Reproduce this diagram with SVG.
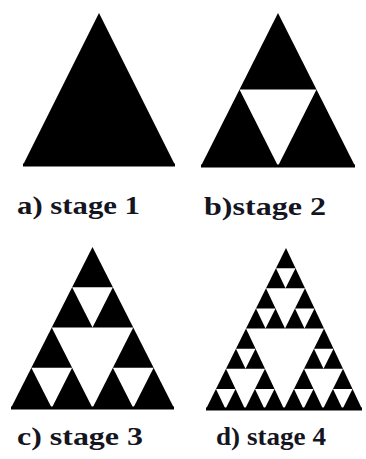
<svg xmlns="http://www.w3.org/2000/svg" width="366" height="459" viewBox="0 0 366 459">
  <style>
    .blk { fill: #000; }
    .wht { fill: #fff; }
    .base { stroke: #000; stroke-width: 3; }
    .lbl { font-family: "Liberation Serif", "Times New Roman", serif; font-weight: bold; font-size: 26px; fill: #15151f; }
  </style>
  <rect width="366" height="459" fill="#fff"/>

  <g id="stage1">
    <polygon class="blk" points="99,13 23,165 175,165"/>
    <line class="base" x1="23" y1="165" x2="175" y2="165"/>
    <text class="lbl" x="17" y="214" textLength="123" lengthAdjust="spacingAndGlyphs">a) stage 1</text>
  </g>

  <g id="stage2">
    <polygon class="blk" points="278,13 201,166 355,166"/>
    <polygon class="wht" points="239.5,89.5 316.5,89.5 278,166"/>
    <line class="base" x1="201" y1="166" x2="355" y2="166"/>
    <text class="lbl" x="204" y="215" textLength="122" lengthAdjust="spacingAndGlyphs">b)stage 2</text>
  </g>

  <g id="stage3">
    <polygon class="blk" points="92.5,247 11,408 174,408"/>
    <polygon class="wht" points="51.75,327.5 133.25,327.5 92.5,408"/>
    <polygon class="wht" points="72.125,287.25 112.875,287.25 92.5,327.5"/>
    <polygon class="wht" points="31.375,367.75 72.125,367.75 51.75,408"/>
    <polygon class="wht" points="112.875,367.75 153.625,367.75 133.25,408"/>
    <line class="base" x1="11" y1="408" x2="174" y2="408"/>
    <text class="lbl" x="17" y="445" textLength="126" lengthAdjust="spacingAndGlyphs">c) stage 3</text>
  </g>

  <g id="stage4">
    <polygon class="blk" points="286,248 206,409 362,409"/>
    <polygon class="wht" points="246,328.5 324,328.5 284,409"/>
    <polygon class="wht" points="266,288.25 305,288.25 285,328.5"/>
    <polygon class="wht" points="226,368.75 265,368.75 245,409"/>
    <polygon class="wht" points="304,368.75 343,368.75 323,409"/>
    <polygon class="wht" points="276,268.125 295.5,268.125 285.5,288.25"/>
    <polygon class="wht" points="256,308.375 275.5,308.375 265.5,328.5"/>
    <polygon class="wht" points="295,308.375 314.5,308.375 304.5,328.5"/>
    <polygon class="wht" points="236,348.625 255.5,348.625 245.5,368.75"/>
    <polygon class="wht" points="216,388.875 235.5,388.875 225.5,409"/>
    <polygon class="wht" points="255,388.875 274.5,388.875 264.5,409"/>
    <polygon class="wht" points="314,348.625 333.5,348.625 323.5,368.75"/>
    <polygon class="wht" points="294,388.875 313.5,388.875 303.5,409"/>
    <polygon class="wht" points="333,388.875 352.5,388.875 342.5,409"/>
    <line class="base" x1="206" y1="409" x2="362" y2="409"/>
    <text class="lbl" x="216" y="445" textLength="110" lengthAdjust="spacingAndGlyphs">d) stage 4</text>
  </g>
</svg>
